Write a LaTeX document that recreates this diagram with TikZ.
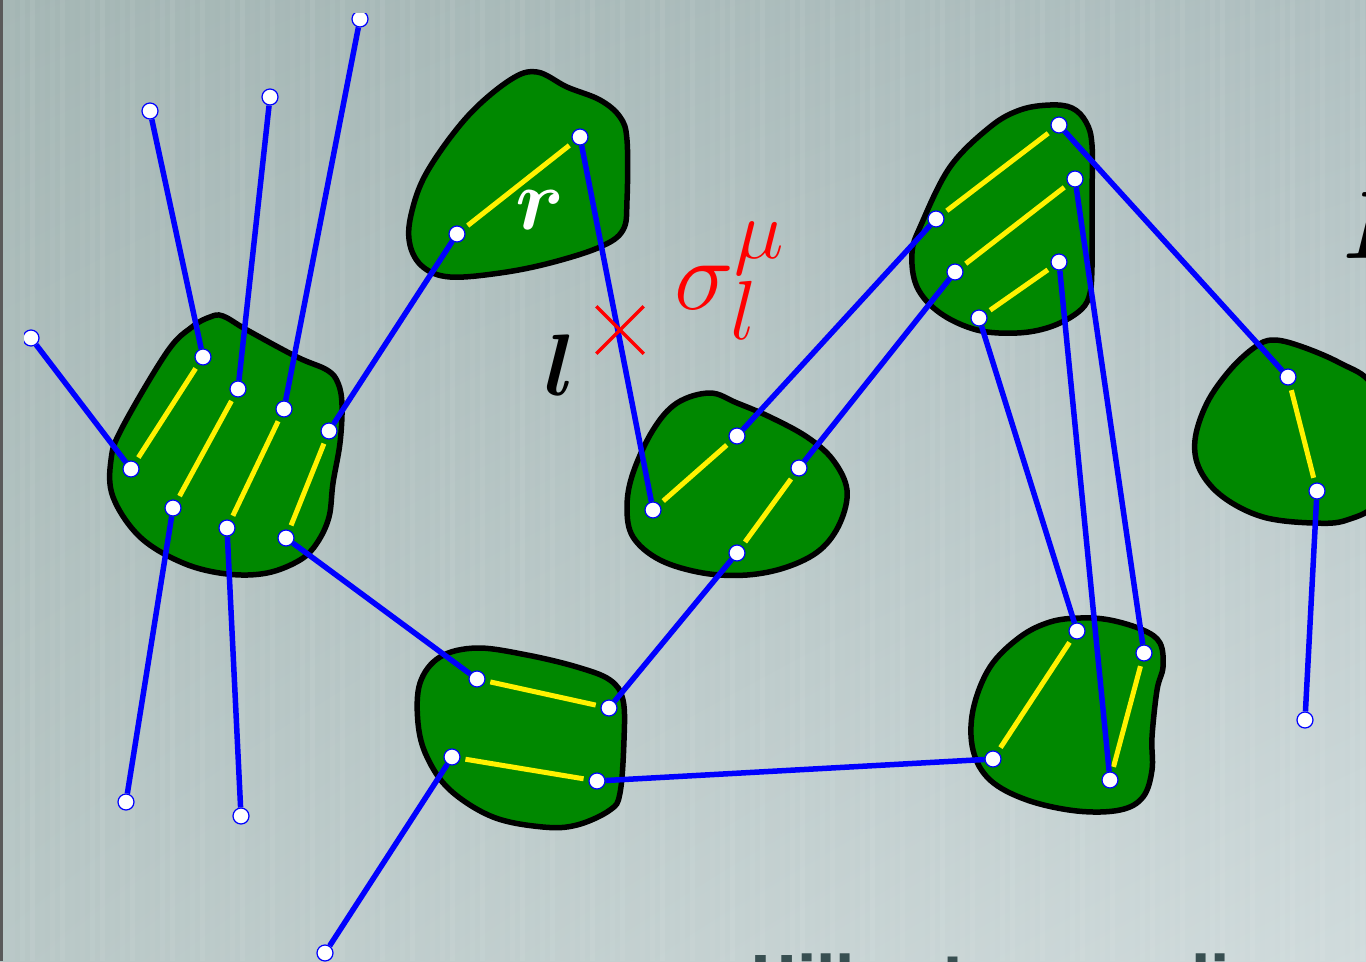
\documentclass[tikz,border=0pt]{standalone}
\usepackage{bm}
\usepackage{fontspec}
\newfontfamily\captionfont{DejaVu Sans}
\usetikzlibrary{shapes.misc,shadings}

\definecolor{bgUL}{RGB}{164,182,180}
\definecolor{bgUR}{RGB}{176,192,193}
\definecolor{bgLL}{RGB}{184,199,198}
\definecolor{bgLR}{RGB}{208,219,220}
\definecolor{blobgreen}{RGB}{0,136,0}
\definecolor{titlecol}{RGB}{56,79,81}

\tikzset{
  blob/.style={fill=blobgreen, draw=black, line width=0.11cm},
  dot/.style={circle, fill=white, draw=blue, line width=0.7pt,
    inner sep=0pt, minimum size=0.32cm},
  link/.style={blue, line width=0.11cm},
  pair/.style={yellow, line width=0.1cm, shorten >=0.1cm, shorten <=0.1cm},
  biglabel/.style={inner sep=0pt, font=\Huge, scale=2}
}

\begin{document}
\begin{tikzpicture}[x=0.02cm, y=-0.02cm]
  \useasboundingbox (0,0) rectangle (1366,961);

  % Background with faint vertical stripes
  \shade[upper left=bgUL, upper right=bgUR, lower left=bgLL, lower right=bgLR]
    (0,0) rectangle (1366,961);
  \foreach \i in {0,...,136} {
    \pgfmathsetmacro\op{0.02+0.05*mod(\i*37,7)/6}
    \fill[white, opacity=\op] (\i*10,0) rectangle ++(5,961);
  }
  \fill[black!65] (0,0) rectangle (3,961);

  \begin{scope}
    \clip (24,13) rectangle (1366,961);

    % Regions
    \draw[blob] plot[smooth cycle, tension=0.6] coordinates {
      (223,316) (247,330) (297,357) (327,370) (338,383) (342,405) (340,443)
      (333,483) (329,517) (317,543) (300,560) (267,573) (227,574) (183,563)
      (140,537) (113,497) (111,460) (122,428) (167,352) (192,327) (210,317)};
    \draw[blob] plot[smooth cycle, tension=0.6] coordinates {
      (537,72) (567,87) (600,100) (620,117) (627,140) (627,200) (623,230)
      (600,247) (550,263) (500,273) (450,277) (423,267) (410,245) (411,215)
      (427,172) (467,117) (510,80)};
    \draw[blob] plot[smooth cycle, tension=0.6] coordinates {
      (710,393) (737,403) (770,417) (807,437) (833,460) (847,490) (840,523)
      (820,550) (787,567) (747,575) (703,573) (660,560) (633,537) (627,507)
      (633,473) (653,430) (677,403)};
    \draw[blob] plot[smooth cycle, tension=0.6] coordinates {
      (477,648) (527,655) (577,667) (610,680) (623,700) (624,740) (620,793)
      (610,810) (577,825) (543,827) (493,817) (450,790) (427,757) (418,723)
      (420,683) (440,657)};
    \draw[blob] plot[smooth cycle, tension=0.6] coordinates {
      (1050,105) (1072,108) (1086,122) (1092,145) (1092,200) (1092,267)
      (1089,297) (1077,313) (1050,327) (1017,333) (977,330) (940,313)
      (917,287) (912,253) (921,225) (950,167) (990,127) (1020,110)};
    \draw[blob] plot[smooth cycle, tension=0.6] coordinates {
      (1080,618) (1110,620) (1143,630) (1160,643) (1163,667) (1157,690)
      (1152,737) (1152,770) (1143,797) (1120,810) (1077,811) (1027,800)
      (990,780) (973,750) (973,710) (990,667) (1020,637) (1050,622)};
    \draw[blob] plot[smooth cycle, tension=0.6] coordinates {
      (1273,340) (1300,346) (1340,363) (1372,385) (1388,440) (1378,500)
      (1347,520) (1313,523) (1263,517) (1223,497) (1200,470) (1195,440)
      (1207,403) (1230,370) (1255,347)};

    % Endpoints of the links
    \node[dot] (a1) at (203,357) {};
    \node[dot] (a2) at (238,389) {};
    \node[dot] (a3) at (284,409) {};
    \node[dot] (a4) at (329,431) {};
    \node[dot] (a5) at (131,469) {};
    \node[dot] (a6) at (173,508) {};
    \node[dot] (a7) at (227,528) {};
    \node[dot] (a8) at (286,538) {};
    \node[dot] (b1) at (580,137) {};
    \node[dot] (b2) at (457,234) {};
    \node[dot] (c1) at (477,679) {};
    \node[dot] (c2) at (609,708) {};
    \node[dot] (c3) at (452,757) {};
    \node[dot] (c4) at (597,781) {};
    \node[dot] (d1) at (653,510) {};
    \node[dot] (d2) at (737,436) {};
    \node[dot] (d3) at (799,468) {};
    \node[dot] (d4) at (737,553) {};
    \node[dot] (e1) at (1059,125) {};
    \node[dot] (e2) at (1075,179) {};
    \node[dot] (e3) at (936,219) {};
    \node[dot] (e4) at (955,272) {};
    \node[dot] (e5) at (1059,262) {};
    \node[dot] (e6) at (979,318) {};
    \node[dot] (f1) at (1077,631) {};
    \node[dot] (f2) at (1144,653) {};
    \node[dot] (f3) at (993,759) {};
    \node[dot] (f4) at (1110,780) {};
    \node[dot] (g1) at (1288,377) {};
    \node[dot] (g2) at (1317,491) {};
    \node[dot] (o1) at (150,111) {};
    \node[dot] (o2) at (270,97) {};
    \node[dot] (o3) at (360,19) {};
    \node[dot] (o4) at (31,338) {};
    \node[dot] (o5) at (126,802) {};
    \node[dot] (o6) at (241,816) {};
    \node[dot] (o7) at (325,953) {};
    \node[dot] (o8) at (1305,720) {};

    % Pairs inside each region
    \draw[pair] (a1) -- (a5);
    \draw[pair] (a2) -- (a6);
    \draw[pair] (a3) -- (a7);
    \draw[pair] (a4) -- (a8);
    \draw[pair] (b1) -- (b2);
    \draw[pair] (c1) -- (c2);
    \draw[pair] (c3) -- (c4);
    \draw[pair] (d1) -- (d2);
    \draw[pair] (d3) -- (d4);
    \draw[pair] (e1) -- (e3);
    \draw[pair] (e2) -- (e4);
    \draw[pair] (e5) -- (e6);
    \draw[pair] (f1) -- (f3);
    \draw[pair] (f2) -- (f4);
    \draw[pair] (g1) -- (g2);

    % Links between regions
    \draw[link] (a1) -- (o1);
    \draw[link] (a2) -- (o2);
    \draw[link] (a3) -- (o3);
    \draw[link] (a5) -- (o4);
    \draw[link] (a6) -- (o5);
    \draw[link] (a7) -- (o6);
    \draw[link] (a4) -- (b2);
    \draw[link] (a8) -- (c1);
    \draw[link] (b1) -- (d1);
    \draw[link] (c2) -- (d4);
    \draw[link] (c3) -- (o7);
    \draw[link] (c4) -- (f3);
    \draw[link] (d2) -- (e3);
    \draw[link] (d3) -- (e4);
    \draw[link] (e1) -- (g1);
    \draw[link] (e2) -- (f2);
    \draw[link] (e5) -- (f4);
    \draw[link] (e6) -- (f1);
    \draw[link] (g2) -- (o8);
  \end{scope}

  % Labels
  \node[cross out, draw=red, line width=0.07cm, minimum size=0.88cm] (cut) at (620,330) {};
  \node[biglabel, text=white] (rlab) at (540,210) {$\bm{r}$};
  \node[biglabel] (llab) at (560,365) {$\bm{l}$};
  \node[inner sep=0pt, text=red, font=\Huge, scale=2.3] (sigma) at (730,281) {$\sigma_l^\mu$};
  \node[biglabel, scale=1.1] (Ilab) at (1372,226) {$\bm{I}$};
  \node[anchor=base west, inner sep=0pt, text=titlecol,
    font=\captionfont\bfseries\fontsize{32}{38}\selectfont] (title) at (750,996) {Hilbert space lines};
\end{tikzpicture}
\end{document}
